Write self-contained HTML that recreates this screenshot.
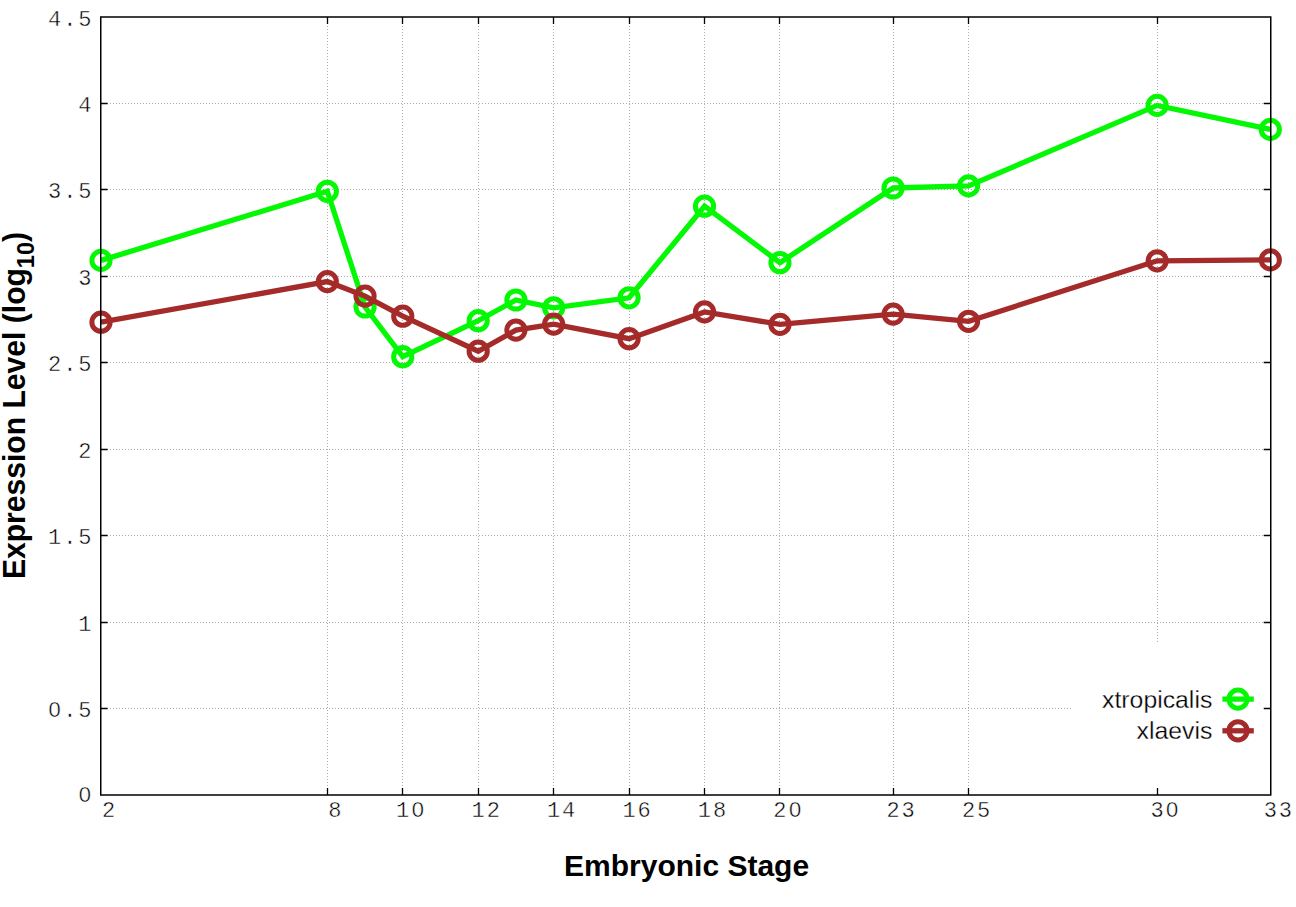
<!DOCTYPE html>
<html><head><meta charset="utf-8"><style>
html,body{margin:0;padding:0;background:#fff;}
svg{display:block;}
</style></head><body>
<svg width="1296" height="907" viewBox="0 0 1296 907">
<rect width="1296" height="907" fill="#fff"/>
<defs><pattern id="ph" patternUnits="userSpaceOnUse" width="3" height="1"><rect x="2" width="1" height="1" fill="#ababab"/></pattern><pattern id="pv" patternUnits="userSpaceOnUse" width="1" height="3"><rect y="2" width="1" height="1" fill="#ababab"/></pattern></defs>
<rect x="108" y="708" width="1155" height="1" fill="url(#ph)"/><rect x="108" y="622" width="1155" height="1" fill="url(#ph)"/><rect x="108" y="535" width="1155" height="1" fill="url(#ph)"/><rect x="108" y="449" width="1155" height="1" fill="url(#ph)"/><rect x="108" y="362" width="1155" height="1" fill="url(#ph)"/><rect x="108" y="276" width="1155" height="1" fill="url(#ph)"/><rect x="108" y="189" width="1155" height="1" fill="url(#ph)"/><rect x="108" y="103" width="1155" height="1" fill="url(#ph)"/><rect x="327" y="24" width="1" height="764" fill="url(#pv)"/><rect x="402" y="24" width="1" height="764" fill="url(#pv)"/><rect x="478" y="24" width="1" height="764" fill="url(#pv)"/><rect x="553" y="24" width="1" height="764" fill="url(#pv)"/><rect x="629" y="24" width="1" height="764" fill="url(#pv)"/><rect x="704" y="24" width="1" height="764" fill="url(#pv)"/><rect x="779" y="24" width="1" height="764" fill="url(#pv)"/><rect x="893" y="24" width="1" height="764" fill="url(#pv)"/><rect x="968" y="24" width="1" height="764" fill="url(#pv)"/><rect x="1157" y="24" width="1" height="764" fill="url(#pv)"/>
<rect x="1071" y="642" width="199" height="152" fill="#fff"/>
<polyline points="101.00,260.40 327.32,191.30 365.04,307.00 402.76,356.70 478.20,320.70 515.92,300.00 553.64,307.80 629.08,297.80 704.52,206.20 779.96,262.70 893.12,188.00 968.56,185.90 1157.16,105.40 1270.32,129.40" fill="none" stroke="#04f804" stroke-width="5.3" stroke-linejoin="miter" stroke-miterlimit="2"/><circle cx="101.00" cy="260.40" r="9.1" fill="none" stroke="#04f804" stroke-width="5.0"/><circle cx="327.32" cy="191.30" r="9.1" fill="none" stroke="#04f804" stroke-width="5.0"/><circle cx="365.04" cy="307.00" r="9.1" fill="none" stroke="#04f804" stroke-width="5.0"/><circle cx="402.76" cy="356.70" r="9.1" fill="none" stroke="#04f804" stroke-width="5.0"/><circle cx="478.20" cy="320.70" r="9.1" fill="none" stroke="#04f804" stroke-width="5.0"/><circle cx="515.92" cy="300.00" r="9.1" fill="none" stroke="#04f804" stroke-width="5.0"/><circle cx="553.64" cy="307.80" r="9.1" fill="none" stroke="#04f804" stroke-width="5.0"/><circle cx="629.08" cy="297.80" r="9.1" fill="none" stroke="#04f804" stroke-width="5.0"/><circle cx="704.52" cy="206.20" r="9.1" fill="none" stroke="#04f804" stroke-width="5.0"/><circle cx="779.96" cy="262.70" r="9.1" fill="none" stroke="#04f804" stroke-width="5.0"/><circle cx="893.12" cy="188.00" r="9.1" fill="none" stroke="#04f804" stroke-width="5.0"/><circle cx="968.56" cy="185.90" r="9.1" fill="none" stroke="#04f804" stroke-width="5.0"/><circle cx="1157.16" cy="105.40" r="9.1" fill="none" stroke="#04f804" stroke-width="5.0"/><circle cx="1270.32" cy="129.40" r="9.1" fill="none" stroke="#04f804" stroke-width="5.0"/>
<polyline points="101.00,322.20 327.32,281.60 365.04,296.10 402.76,316.20 478.20,351.20 515.92,330.10 553.64,324.10 629.08,338.70 704.52,311.90 779.96,324.40 893.12,314.10 968.56,321.30 1157.16,260.80 1270.32,259.90" fill="none" stroke="#a52a2a" stroke-width="5.3" stroke-linejoin="miter" stroke-miterlimit="2"/><circle cx="101.00" cy="322.20" r="9.1" fill="none" stroke="#a52a2a" stroke-width="5.0"/><circle cx="327.32" cy="281.60" r="9.1" fill="none" stroke="#a52a2a" stroke-width="5.0"/><circle cx="365.04" cy="296.10" r="9.1" fill="none" stroke="#a52a2a" stroke-width="5.0"/><circle cx="402.76" cy="316.20" r="9.1" fill="none" stroke="#a52a2a" stroke-width="5.0"/><circle cx="478.20" cy="351.20" r="9.1" fill="none" stroke="#a52a2a" stroke-width="5.0"/><circle cx="515.92" cy="330.10" r="9.1" fill="none" stroke="#a52a2a" stroke-width="5.0"/><circle cx="553.64" cy="324.10" r="9.1" fill="none" stroke="#a52a2a" stroke-width="5.0"/><circle cx="629.08" cy="338.70" r="9.1" fill="none" stroke="#a52a2a" stroke-width="5.0"/><circle cx="704.52" cy="311.90" r="9.1" fill="none" stroke="#a52a2a" stroke-width="5.0"/><circle cx="779.96" cy="324.40" r="9.1" fill="none" stroke="#a52a2a" stroke-width="5.0"/><circle cx="893.12" cy="314.10" r="9.1" fill="none" stroke="#a52a2a" stroke-width="5.0"/><circle cx="968.56" cy="321.30" r="9.1" fill="none" stroke="#a52a2a" stroke-width="5.0"/><circle cx="1157.16" cy="260.80" r="9.1" fill="none" stroke="#a52a2a" stroke-width="5.0"/><circle cx="1270.32" cy="259.90" r="9.1" fill="none" stroke="#a52a2a" stroke-width="5.0"/>
<line x1="1222.4" y1="699.1" x2="1253.8" y2="699.1" stroke="#04f804" stroke-width="5.3"/><circle cx="1238" cy="699.1" r="9.1" fill="none" stroke="#04f804" stroke-width="5.0"/>
<line x1="1222.4" y1="730.8" x2="1253.8" y2="730.8" stroke="#a52a2a" stroke-width="5.3"/><circle cx="1238" cy="730.8" r="9.1" fill="none" stroke="#a52a2a" stroke-width="5.0"/>
<g stroke="#000" fill="none"><rect x="100.75" y="17.0" width="1170.0" height="778.0" fill="none" stroke-width="1.5"/><path d="M100.75,708.5h7M1270.75,708.5h-7M100.75,622.5h7M1270.75,622.5h-7M100.75,535.5h7M1270.75,535.5h-7M100.75,449.5h7M1270.75,449.5h-7M100.75,362.5h7M1270.75,362.5h-7M100.75,276.5h7M1270.75,276.5h-7M100.75,189.5h7M1270.75,189.5h-7M100.75,103.5h7M1270.75,103.5h-7M327.5,795.0v-7M327.5,17.0v7M402.5,795.0v-7M402.5,17.0v7M478.5,795.0v-7M478.5,17.0v7M553.5,795.0v-7M553.5,17.0v7M629.5,795.0v-7M629.5,17.0v7M704.5,795.0v-7M704.5,17.0v7M779.5,795.0v-7M779.5,17.0v7M893.5,795.0v-7M893.5,17.0v7M968.5,795.0v-7M968.5,17.0v7M1157.5,795.0v-7M1157.5,17.0v7" stroke-width="1.3"/></g>
<g font-family="Liberation Mono" font-size="22" fill="#000" stroke="#fff" stroke-width="0.45" letter-spacing="1.90"><text x="78.30" y="802.00">0</text><text x="48.10" y="717.05">0.5</text><text x="78.30" y="630.61">1</text><text x="48.10" y="544.17">1.5</text><text x="78.30" y="457.72">2</text><text x="48.10" y="371.28">2.5</text><text x="78.30" y="284.83">3</text><text x="48.10" y="198.38">3.5</text><text x="78.30" y="111.94">4</text><text x="48.10" y="25.50">4.5</text><text x="101.90" y="817">2</text><text x="328.22" y="817">8</text><text x="396.11" y="817">10</text><text x="471.55" y="817">12</text><text x="546.99" y="817">14</text><text x="622.43" y="817">16</text><text x="697.87" y="817">18</text><text x="773.31" y="817">20</text><text x="886.47" y="817">23</text><text x="961.91" y="817">25</text><text x="1150.51" y="817">30</text><text x="1263.67" y="817">33</text></g>
<g fill="#fff"><ellipse cx="84.90" cy="794.70" rx="1.9" ry="2.4"/><ellipse cx="54.70" cy="709.75" rx="1.9" ry="2.4"/><ellipse cx="417.81" cy="809.70" rx="1.9" ry="2.4"/><ellipse cx="795.01" cy="809.70" rx="1.9" ry="2.4"/><ellipse cx="1172.21" cy="809.70" rx="1.9" ry="2.4"/></g>
<text x="686.6" y="876" text-anchor="middle" font-family="Liberation Sans" font-weight="bold" font-size="30">Embryonic Stage</text>
<text transform="translate(25 405.5) rotate(-90) scale(1 1.04)" text-anchor="middle" font-family="Liberation Sans" font-weight="bold" font-size="30.1">Expression Level (log<tspan font-size="23.5" dy="8.7">10</tspan><tspan dy="-8.7">)</tspan></text>
<g font-family="Liberation Sans" font-size="24.8" text-anchor="end" stroke="#fff" stroke-width="0.3"><text x="1212.3" y="707.6">xtropicalis</text><text x="1212.3" y="738.7">xlaevis</text></g>
</svg>
</body></html>
